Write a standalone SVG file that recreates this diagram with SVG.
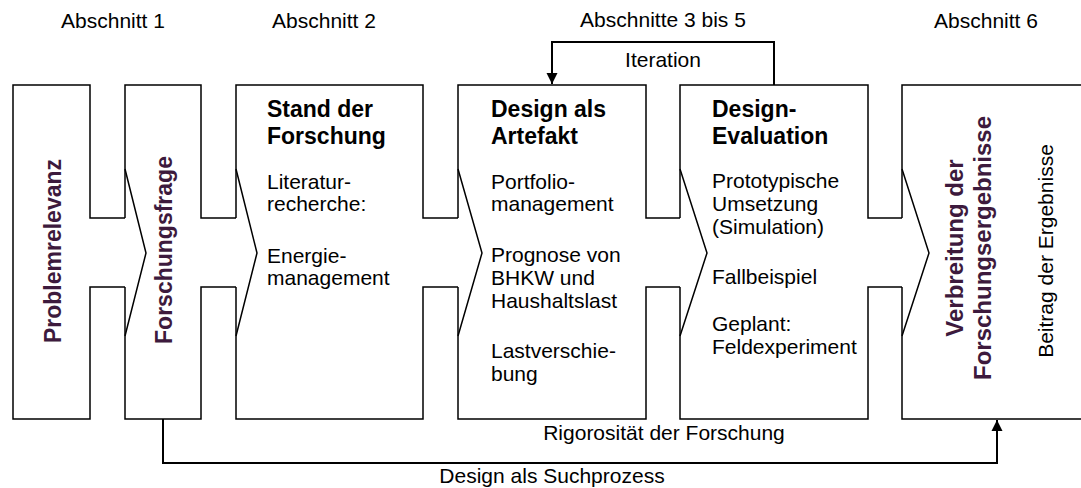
<svg xmlns="http://www.w3.org/2000/svg" width="1081" height="488" viewBox="0 0 1081 488">
<style>
.box{fill:none;stroke:#000;stroke-width:1.5;stroke-linejoin:miter}
.chev{fill:none;stroke:#000;stroke-width:1.5}
.con{fill:none;stroke:#000;stroke-width:2}
.t{font-family:"Liberation Sans",Arial,sans-serif;font-size:21px;fill:#000}
.h{font-family:"Liberation Sans",Arial,sans-serif;font-size:23px;font-weight:bold;fill:#000}
.v{font-family:"Liberation Sans",Arial,sans-serif;font-size:23px;font-weight:bold;fill:#3d1a3d;text-anchor:middle}
.v6{font-size:24px}
.c{text-anchor:middle}
</style>
<defs>
<marker id="arr" viewBox="0 0 10 10" refX="10" refY="5" markerWidth="11" markerHeight="14" markerUnits="userSpaceOnUse" orient="auto">
<path d="M0,0 L10,5 L0,10 Z" fill="#000"/>
</marker>
</defs>
<g id="headers">
<text class="t c" x="113" y="28">Abschnitt 1</text>
<text class="t c" x="324" y="28">Abschnitt 2</text>
<text class="t c" x="663" y="27">Abschnitte 3 bis 5</text>
<text class="t c" x="986" y="28">Abschnitt 6</text>
</g>
<g id="connectors">
<path class="con" d="M774,85 V42 H552 V84" marker-end="url(#arr)"/>
<text class="t c" x="663" y="67">Iteration</text>
<path class="con" d="M163,419 V463 H997 V420" marker-end="url(#arr)"/>
<text class="t c" x="664" y="440">Rigorosität der Forschung</text>
<text class="t c" x="552" y="483">Design als Suchprozess</text>
</g>
<g id="n1">
<path class="box" d="M125,218 H90 V85 H13 V419 H90 V287 H125"/>
<text class="v" transform="translate(61,251) rotate(-90)">Problemrelevanz</text>
</g>
<g id="n2">
<path class="box" d="M125,218 V85 H201 V218 H236 M236,287 H201 V419 H125 V287"/>
<path class="chev" d="M125,169 L146,253 L125,336"/>
<text class="v" transform="translate(172,250) rotate(-90)">Forschungsfrage</text>
</g>
<g id="n3">
<path class="box" d="M236,218 V85 H423 V218 H458 M458,287 H423 V419 H236 V287"/>
<path class="chev" d="M236,169 L257,253 L236,336"/>
<text class="h" x="267" y="117">Stand der</text>
<text class="h" x="267" y="144">Forschung</text>
<text class="t" x="267" y="189">Literatur-</text>
<text class="t" x="267" y="211">recherche:</text>
<text class="t" x="267" y="263">Energie-</text>
<text class="t" x="267" y="285">management</text>
</g>
<g id="n4">
<path class="box" d="M458,218 V85 H646 V218 H680 M680,287 H646 V419 H458 V287"/>
<path class="chev" d="M458,169 L482,253 L458,336"/>
<text class="h" x="491" y="117">Design als</text>
<text class="h" x="491" y="144">Artefakt</text>
<text class="t" x="491" y="189">Portfolio-</text>
<text class="t" x="491" y="211">management</text>
<text class="t" x="491" y="262">Prognose von</text>
<text class="t" x="491" y="285">BHKW und</text>
<text class="t" x="491" y="308">Haushaltslast</text>
<text class="t" x="491" y="358">Lastverschie-</text>
<text class="t" x="491" y="381">bung</text>
</g>
<g id="n5">
<path class="box" d="M680,218 V85 H868 V218 H902 M902,287 H868 V419 H680 V287"/>
<path class="chev" d="M680,169 L707,253 L680,336"/>
<text class="h" x="712" y="117">Design-</text>
<text class="h" x="712" y="144">Evaluation</text>
<text class="t" x="712" y="188">Prototypische</text>
<text class="t" x="712" y="211">Umsetzung</text>
<text class="t" x="712" y="234">(Simulation)</text>
<text class="t" x="712" y="284">Fallbeispiel</text>
<text class="t" x="712" y="331">Geplant:</text>
<text class="t" x="712" y="354">Feldexperiment</text>
</g>
<g id="n6">
<path class="box" d="M902,218 V85 H1082 M1082,419 H902 V287"/>
<path class="chev" d="M902,169 L929,253 L902,336"/>
<text class="v v6" transform="translate(963,248) rotate(-90)">Verbreitung der</text>
<text class="v v6" transform="translate(991,248) rotate(-90)">Forschungsergebnisse</text>
<text class="t c" transform="translate(1053,251) rotate(-90)">Beitrag der Ergebnisse</text>
</g>
</svg>
